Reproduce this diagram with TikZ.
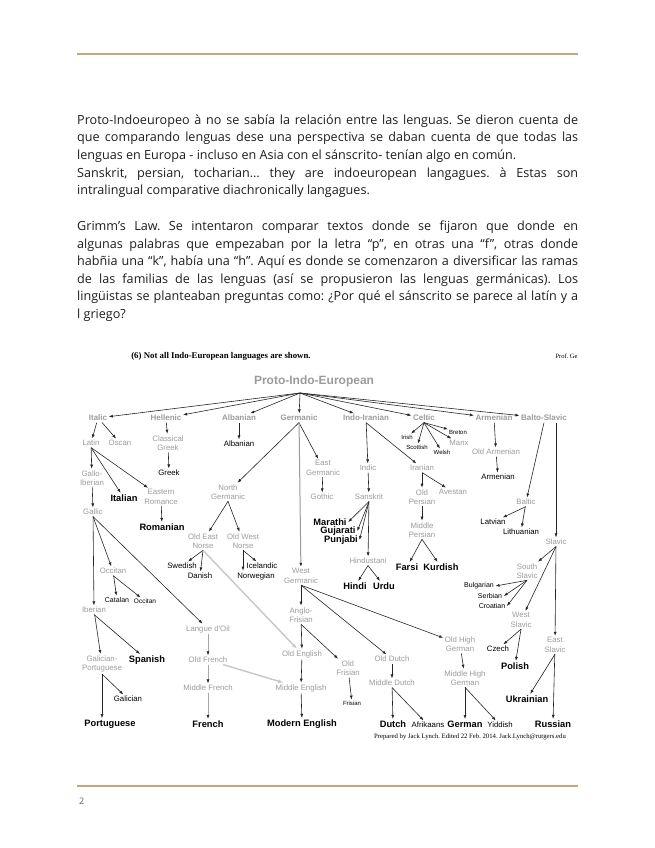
\documentclass[tikz,border=0pt]{standalone}
\usepackage{fontspec}
\setmainfont{Open Sans}
\newfontfamily\arialfont{Liberation Sans}
\newfontfamily\timesfont{Liberation Serif}
\usepackage{tikz}
\usetikzlibrary{arrows.meta,positioning}

\definecolor{rulecol}{HTML}{C9A47C}
\definecolor{famgray}{HTML}{9C9C9C}
\definecolor{bodytext}{HTML}{1E1E1E}
\frenchspacing

\begin{document}
\begin{tikzpicture}[x=1pt, y=-1pt,
        para/.style={anchor=base west, inner sep=0pt, text=bodytext,
            font=\fontsize{12.6}{17.6}\selectfont},
        fam/.style={text=famgray, inner sep=1.5pt, align=center,
            font=\arialfont\fontsize{7.8}{9.5}\selectfont},
        famb/.style={fam, font=\arialfont\bfseries\fontsize{8}{9.5}\selectfont},
        lang/.style={text=black, inner sep=1.5pt, font=\arialfont\fontsize{7.8}{9}\selectfont},
        big/.style={text=black, inner sep=1.5pt, font=\arialfont\bfseries\fontsize{9.3}{9}\selectfont},
        tiny/.style={text=black, inner sep=1pt, font=\arialfont\fontsize{6}{7}\selectfont},
        arr/.style={-{Latex[length=4pt,width=3pt]}, draw=black!85, line width=0.6pt},
        grayarr/.style={-{Latex[length=4pt,width=3pt,color=black!85]}, draw=black!35, line width=0.6pt},
        infl/.style={-{Latex[length=5pt,width=4pt]}, draw=black!22, line width=1.4pt},
        rulebar/.style={draw=rulecol, line width=2pt}
    ]
    \useasboundingbox[fill=white] (0,0) rectangle (655,848);

    % Page rules
    \draw[rulebar] (77,54) -- (578,54);
    \draw[rulebar] (77,786) -- (578,786);
    \node[anchor=base west, inner sep=0pt, text=black!60, font=\fontsize{9}{10}\selectfont] (pagenum) at (79,804) {2};

    % Body text
    \node[para] (l1) at (77,124.5) {\makebox[501pt][s]{Proto-Indoeuropeo à no se sabía la relación entre las lenguas. Se dieron cuenta de}};
    \node[para] (l2) at (77,142) {\makebox[501pt][s]{que comparando lenguas dese una perspectiva se daban cuenta de que todas las}};
    \node[para] (l3) at (77,159.5) {lenguas en Europa - incluso en Asia con el sánscrito- tenían algo en común.};
    \node[para] (l4) at (77,177) {\makebox[501pt][s]{Sanskrit, persian, tocharian… they are indoeuropean langagues. à Estas son}};
    \node[para] (l5) at (77,194.5) {intralingual comparative diachronically langagues.};
    \node[para] (l6) at (77,230.5) {\makebox[501pt][s]{Grimm’s Law. Se intentaron comparar textos donde se fijaron que donde en}};
    \node[para] (l7) at (77,248) {\makebox[501pt][s]{algunas palabras que empezaban por la letra “p”, en otras una “f”, otras donde}};
    \node[para] (l8) at (77,265.5) {\makebox[501pt][s]{habñia una “k”, había una “h”. Aquí es donde se comenzaron a diversificar las ramas}};
    \node[para] (l9) at (77,283) {\makebox[501pt][s]{de las familias de las lenguas (así se propusieron las lenguas germánicas). Los}};
    \node[para] (l10) at (77,300.5) {\makebox[501pt][s]{lingüistas se planteaban preguntas como: ¿Por qué el sánscrito se parece al latín y a}};
    \node[para] (l11) at (77,318) {l griego?};

    % Figure header and footer
    \node[font=\timesfont\bfseries\fontsize{8.8}{9}\selectfont] (title) at (221,356) {(6) Not all Indo-European languages are shown.};
    \node[anchor=west, font=\timesfont\fontsize{6.5}{7}\selectfont] (prof) at (552,356) {Prof. Ge};
    \node[font=\timesfont\fontsize{6.7}{7}\selectfont] (credit) at (470,737) {Prepared by Jack Lynch. Edited 22 Feb. 2014. Jack.Lynch@rutgers.edu};

    % Root and branches
    \node[famb, font=\arialfont\bfseries\fontsize{12}{13}\selectfont] (pie) at (314,381) {Proto-Indo-European};
    \coordinate (hub) at (300,393);
    \node[famb] (italic) at (98,418) {Italic};
    \node[famb] (hellenic) at (166,418) {Hellenic};
    \node[famb] (albanianbr) at (239,418) {Albanian};
    \node[famb] (germanic) at (299,418) {Germanic};
    \node[famb] (indoiranian) at (366,418) {Indo-Iranian};
    \node[famb] (celtic) at (424,418) {Celtic};
    \node[famb] (armenianbr) at (494,418) {Armenian};
    \node[famb] (baltoslavic) at (544,418) {Balto-Slavic};

    % Italic
    \node[fam] (latin) at (91,443) {Latin};
    \node[fam] (oscan) at (120,443) {Oscan};
    \node[fam] (galloib) at (92,478) {Gallo-\\Iberian};
    \node[big] (italian) at (124,498) {Italian};
    \node[fam] (eastrom) at (161,497) {Eastern\\Romance};
    \node[big] (romanian) at (162,527) {Romanian};
    \node[fam] (gallic) at (93,512) {Gallic};
    \node[fam] (occitanbr) at (113,571) {Occitan};
    \node[lang, font=\arialfont\fontsize{7}{8}\selectfont] (catalan) at (117,600) {Catalan};
    \node[tiny, font=\arialfont\fontsize{6.5}{7}\selectfont] (occitan) at (145,601) {Occitan};
    \node[fam] (iberian) at (94,610) {Iberian};
    \node[fam] (galport) at (102,664) {Galician-\\Portuguese};
    \node[big] (spanish) at (147,660) {Spanish};
    \node[lang] (galician) at (128,699) {Galician};
    \node[big] (portuguese) at (110,724) {Portuguese};
    \node[fam] (langoil) at (208,629) {Langue d'Oil};
    \node[fam] (oldfrench) at (208,660) {Old French};
    \node[fam] (midfrench) at (208,688) {Middle French};
    \node[big] (french) at (208,724) {French};

    % Hellenic, Albanian
    \node[fam] (classgreek) at (168,443) {Classical\\Greek};
    \node[lang] (greek) at (169,473) {Greek};
    \node[lang] (albanian) at (239,444) {Albanian};

    % Germanic
    \node[fam] (northgerm) at (228,492) {North\\Germanic};
    \node[fam] (oen) at (203,541) {Old East\\Norse};
    \node[fam] (own) at (243,541) {Old West\\Norse};
    \node[lang] (swedish) at (182,566) {Swedish};
    \node[lang] (danish) at (200,576) {Danish};
    \node[lang] (icelandic) at (262,566) {Icelandic};
    \node[lang] (norwegian) at (256,576) {Norwegian};
    \node[fam] (eastgerm) at (323,468) {East\\Germanic};
    \node[fam] (gothic) at (322,497) {Gothic};
    \node[fam] (westgerm) at (301,576) {West\\Germanic};
    \node[fam] (anglofris) at (301,615) {Anglo-\\Frisian};
    \node[fam] (oldenglish) at (302,654) {Old English};
    \node[fam] (midenglish) at (301,688) {Middle English};
    \node[big] (modenglish) at (302,724) {Modern English};
    \node[fam] (oldfrisian) at (348,668) {Old\\Frisian};
    \node[tiny] (frisian) at (352,703) {Frisian};
    \node[fam] (olddutch) at (392,659) {Old Dutch};
    \node[fam] (middutch) at (392,683) {Middle Dutch};
    \node[big] (dutch) at (393,724) {Dutch};
    \node[lang] (afrikaans) at (428,725) {Afrikaans};
    \node[fam] (ohg) at (460,644) {Old High\\German};
    \node[fam] (mhg) at (465,678) {Middle High\\German};
    \node[big] (german) at (465,724) {German};
    \node[lang] (yiddish) at (500,725) {Yiddish};

    % Indo-Iranian
    \node[fam] (indic) at (368,468) {Indic};
    \node[fam] (sanskrit) at (369,497) {Sanskrit};
    \node[big] (marathi) at (330,522) {Marathi};
    \node[big] (gujarati) at (338,531) {Gujarati};
    \node[big] (punjabi) at (341,540) {Punjabi};
    \node[fam] (hindustani) at (368,561) {Hindustani};
    \node[big] (hindi) at (355,586) {Hindi};
    \node[big] (urdu) at (384,586) {Urdu};
    \node[fam] (iranian) at (422,468) {Iranian};
    \node[fam] (oldpersian) at (422,497) {Old\\Persian};
    \node[fam] (avestan) at (453,492) {Avestan};
    \node[fam] (midpersian) at (422,530) {Middle\\Persian};
    \node[big] (farsi) at (407,567) {Farsi};
    \node[big] (kurdish) at (441,567) {Kurdish};

    % Celtic
    \node[tiny] (irish) at (407,437) {Irish};
    \node[tiny] (scottish) at (417,447) {Scottish};
    \node[tiny] (welsh) at (442,452) {Welsh};
    \node[fam] (manx) at (459,443) {Manx};
    \node[tiny] (breton) at (458,432) {Breton};

    % Armenian
    \node[fam] (oldarmenian) at (496,452) {Old Armenian};
    \node[lang] (armenian) at (498,477) {Armenian};

    % Balto-Slavic
    \node[fam] (baltic) at (526,502) {Baltic};
    \node[lang] (latvian) at (493,522) {Latvian};
    \node[lang] (lithuanian) at (521,532) {Lithuanian};
    \node[fam] (slavic) at (556,542) {Slavic};
    \node[fam] (southslavic) at (527,571) {South\\Slavic};
    \node[lang, font=\arialfont\fontsize{7}{8}\selectfont] (bulgarian) at (479,586) {Bulgarian};
    \node[lang, font=\arialfont\fontsize{7}{8}\selectfont] (serbian) at (490,596) {Serbian};
    \node[lang, font=\arialfont\fontsize{7}{8}\selectfont] (croatian) at (492,606) {Croatian};
    \node[fam] (westslavic) at (521,620) {West\\Slavic};
    \node[lang] (czech) at (498,649) {Czech};
    \node[big] (polish) at (515,666) {Polish};
    \node[fam] (eastslavic) at (555,645) {East\\Slavic};
    \node[big] (ukrainian) at (527,699) {Ukrainian};
    \node[big] (russian) at (553,724) {Russian};

    % Arrows from the root
    \foreach \br in {italic,hellenic,albanianbr,germanic,indoiranian,celtic,armenianbr,baltoslavic}
        \draw[arr] (hub) -- (\br);

    % Italic arrows
    \draw[arr] (italic) -- (latin);
    \draw[arr] (italic) -- (oscan);
    \draw[arr] (latin) -- (galloib);
    \draw[arr] (latin.south) -- (italian);
    \draw[arr] (latin.south) -- (eastrom);
    \draw[arr] (eastrom) -- (romanian);
    \draw[arr] (galloib) -- (gallic);
    \draw[arr] (gallic.south) -- (occitanbr);
    \draw[arr] (gallic) -- (iberian);
    \draw[arr] (gallic.south) -- (langoil);
    \draw[arr] (occitanbr) -- (catalan);
    \draw[arr] (occitanbr.south) -- (occitan);
    \draw[arr] (iberian) -- (galport);
    \draw[arr] (iberian.south) -- (spanish);
    \draw[arr] (galport) -- (portuguese.north -| galport.south);
    \draw[arr] (galport.south) -- (galician);
    \draw[grayarr] (langoil) -- (oldfrench);
    \draw[grayarr] (oldfrench) -- (midfrench);
    \draw[grayarr] (midfrench) -- (french);

    % Hellenic and Albanian arrows
    \draw[arr] (hellenic) -- (classgreek);
    \draw[arr] (classgreek) -- (greek);
    \draw[arr] (albanianbr) -- (albanian);

    % Germanic arrows
    \draw[arr] (germanic.south) -- (northgerm);
    \draw[arr] (germanic.south) -- (eastgerm);
    \draw[-{Latex[length=4pt,width=3pt,color=black!85]}, draw=black!40, line width=1pt] (germanic) -- (westgerm);
    \draw[arr] (eastgerm) -- (gothic);
    \draw[arr] (northgerm.south) -- (oen);
    \draw[arr] (northgerm.south) -- (own);
    \draw[arr] (oen.south) -- (swedish);
    \draw[arr] (oen.south) -- (danish);
    \draw[arr] (own.south) -- (icelandic);
    \draw[arr] (own.south) -- (norwegian.north -| own.south);
    \draw[arr] (westgerm) -- (anglofris);
    \draw[arr] (westgerm.south) -- (olddutch);
    \draw[arr] (westgerm.south) -- (ohg);
    \draw[arr] (anglofris) -- (oldenglish);
    \draw[arr] (anglofris.south) -- (oldfrisian);
    \draw[arr] (oldenglish) -- (midenglish);
    \draw[arr] (midenglish) -- (modenglish);
    \draw[arr] (oldfrisian) -- (frisian);
    \draw[arr] (olddutch) -- (middutch);
    \draw[arr] (middutch) -- (dutch);
    \draw[arr] (middutch.south) -- (afrikaans);
    \draw[arr] (ohg) -- (mhg);
    \draw[arr] (mhg) -- (german);
    \draw[arr] (mhg.south) -- (yiddish);

    % Borrowings
    \draw[infl] (oen.south) -- (oldenglish);
    \draw[infl] (oldfrench) -- (midenglish);

    % Indo-Iranian arrows
    \draw[arr] (indoiranian) -- (indic);
    \draw[arr] (indoiranian.south) -- (iranian);
    \draw[arr] (indic) -- (sanskrit);
    \draw[arr] (sanskrit.south) -- (marathi.east);
    \draw[arr] (sanskrit.south) -- (gujarati.east);
    \draw[arr] (sanskrit.south) -- (punjabi.east);
    \draw[arr] (sanskrit) -- (hindustani);
    \draw[arr] (hindustani.south) -- (hindi);
    \draw[arr] (hindustani.south) -- (urdu);
    \draw[arr] (iranian) -- (oldpersian);
    \draw[arr] (iranian.south) -- (avestan);
    \draw[arr] (oldpersian) -- (midpersian);
    \draw[arr] (midpersian.south) -- (farsi);
    \draw[arr] (midpersian.south) -- (kurdish);

    % Celtic arrows
    \foreach \lg in {irish,scottish,welsh,manx,breton}
        \draw[arr] (celtic.south) -- (\lg);

    % Armenian arrows
    \draw[arr] (armenianbr) -- (oldarmenian);
    \draw[arr] (oldarmenian) -- (armenian);

    % Balto-Slavic arrows
    \draw[arr] (baltoslavic.south) -- (baltic);
    \draw[arr] (baltoslavic.south -| slavic) -- (slavic);
    \draw[arr] (baltic.south) -- (latvian);
    \draw[arr] (baltic) -- (lithuanian);
    \draw[arr] (slavic.south) -- (southslavic);
    \draw[arr] (slavic.south) -- (westslavic);
    \draw[arr] (slavic) -- (eastslavic);
    \draw[arr] (southslavic.south) -- (bulgarian.east);
    \draw[arr] (southslavic.south) -- (serbian.east);
    \draw[arr] (southslavic.south) -- (croatian.east);
    \draw[arr] (westslavic.south) -- (czech);
    \draw[arr] (westslavic.south) -- (polish);
    \draw[arr] (eastslavic.south) -- (ukrainian);
    \draw[arr] (eastslavic) -- (russian);
\end{tikzpicture}
\end{document}
